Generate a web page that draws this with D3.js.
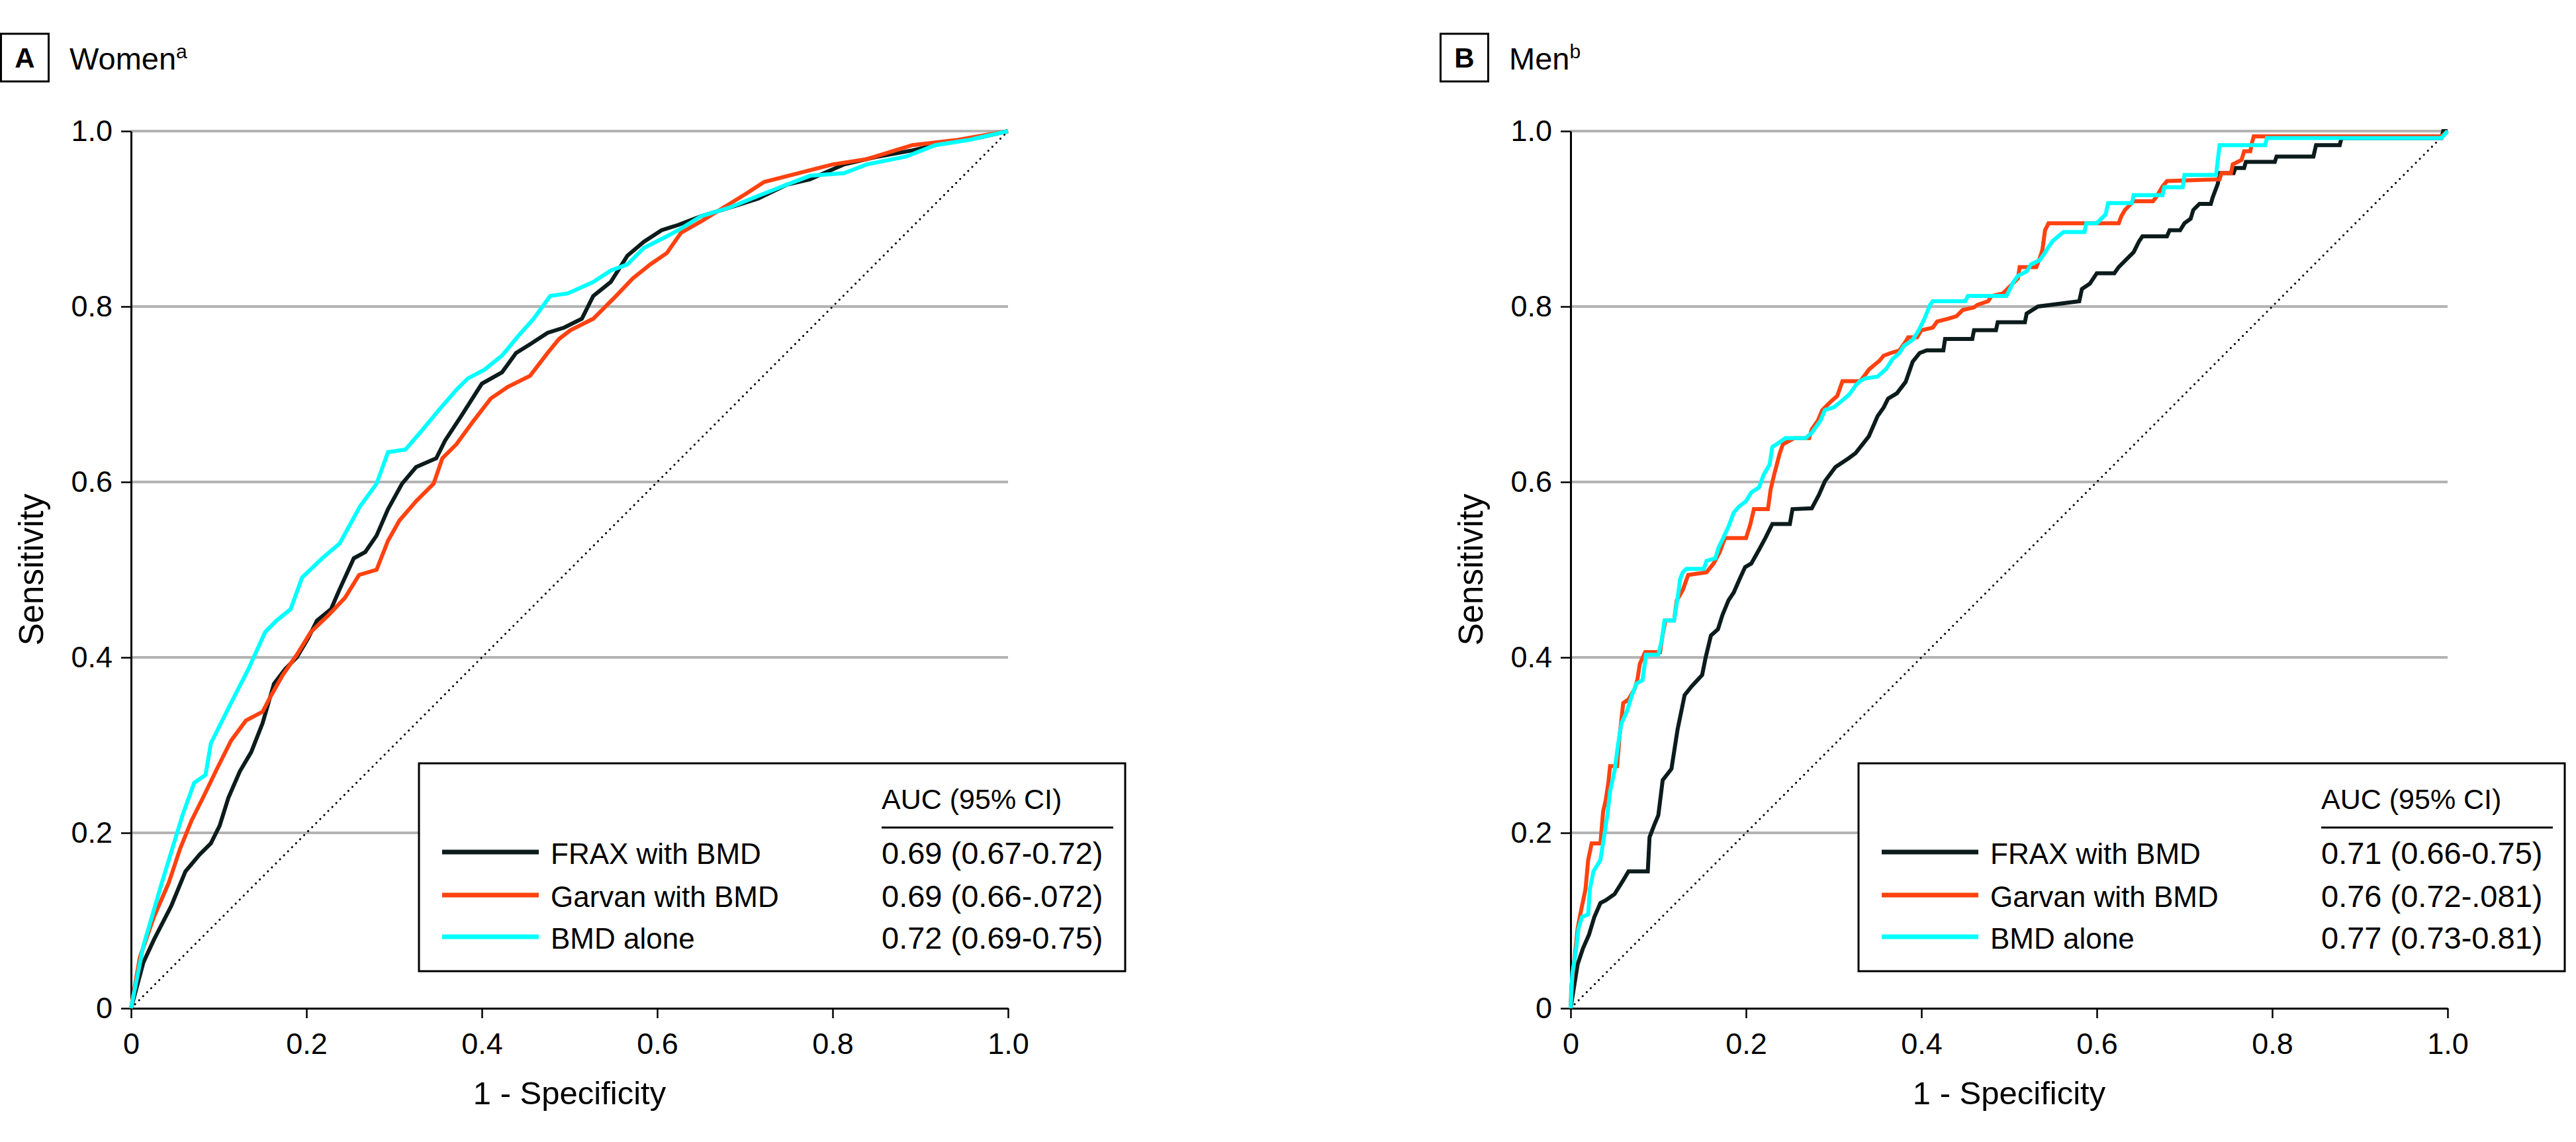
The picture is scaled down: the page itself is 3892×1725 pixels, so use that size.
<!DOCTYPE html>
<html><head><meta charset="utf-8">
<script src="https://cdn.jsdelivr.net/npm/d3@7/dist/d3.min.js"></script>
<style>
html,body{margin:0;padding:0;background:#fff;}
svg text{font-family:"Liberation Sans",Arial,sans-serif;fill:#000;}
</style></head>
<body>
<svg id="chart" width="3892" height="1725"></svg>
<script>
// ---------- data ----------
const tickValues = [0, 0.2, 0.4, 0.6, 0.8, 1.0];
const tickLabels = ["0", "0.2", "0.4", "0.6", "0.8", "1.0"];
const seriesNames = ["FRAX with BMD", "Garvan with BMD", "BMD alone"];
const seriesColors = ["#0c1b1b", "#ff4210", "#00ffff"];
const panelLetters = ["A", "B"];
const panelTitles = ["Women", "Men"];
const panelSups = ["a", "b"];
const aucHeader = "AUC (95% CI)";
const womenAuc = ["0.69 (0.67-0.72)", "0.69 (0.66-.072)", "0.72 (0.69-0.75)"];
const menAuc = ["0.71 (0.66-0.75)", "0.76 (0.72-.081)", "0.77 (0.73-0.81)"];

// [1 - specificity, sensitivity]
const womenFrax = [[0,0],[.014,.052],[.026,.078],[.046,.117],[.062,.156],[.078,.175],[.091,.188],[.101,.208],[.111,.240],[.124,.270],[.137,.292],[.150,.325],[.163,.370],[.176,.387],[.189,.400],[.202,.422],[.212,.442],[.228,.455],[.238,.478],[.254,.513],[.267,.520],[.280,.539],[.293,.569],[.309,.598],[.325,.617],[.348,.627],[.358,.647],[.377,.676],[.400,.712],[.423,.725],[.439,.747],[.455,.757],[.475,.770],[.494,.776],[.514,.786],[.527,.812],[.547,.828],[.566,.858],[.585,.874],[.605,.887],[.624,.893],[.650,.903],[.683,.913],[.715,.923],[.748,.939],[.774,.945],[.813,.962],[.852,.971],[.891,.978],[.930,.987],[.969,.993],[1,1]];
const womenGarvan = [[0,0],[.010,.058],[.026,.104],[.043,.143],[.056,.182],[.069,.214],[.082,.240],[.098,.273],[.114,.305],[.131,.328],[.150,.338],[.160,.357],[.173,.380],[.189,.403],[.205,.429],[.225,.448],[.244,.468],[.260,.494],[.280,.500],[.293,.533],[.306,.556],[.325,.578],[.345,.598],[.355,.627],[.371,.643],[.390,.669],[.410,.695],[.429,.708],[.455,.721],[.475,.747],[.488,.763],[.501,.773],[.527,.786],[.553,.812],[.572,.832],[.592,.848],[.611,.861],[.627,.884],[.650,.897],[.676,.913],[.702,.929],[.722,.942],[.761,.952],[.800,.962],[.839,.968],[.891,.984],[.943,.990],[1,1]];
const womenBmd = [[0,0],[.014,.071],[.036,.146],[.059,.221],[.072,.257],[.085,.266],[.091,.302],[.114,.348],[.134,.387],[.153,.429],[.166,.442],[.182,.455],[.195,.491],[.218,.513],[.238,.530],[.261,.572],[.280,.598],[.293,.634],[.313,.637],[.332,.659],[.351,.682],[.371,.705],[.384,.718],[.403,.728],[.423,.744],[.442,.767],[.459,.786],[.478,.812],[.498,.815],[.514,.822],[.527,.828],[.547,.841],[.566,.848],[.585,.867],[.605,.877],[.624,.887],[.650,.903],[.683,.913],[.715,.926],[.748,.939],[.774,.949],[.813,.952],[.839,.962],[.884,.971],[.917,.984],[.956,.990],[1,1]];

const menFrax = [[0,0],[.008,.05],[.014,.068],[.021,.084],[.027,.104],[.034,.12],[.04,.123],[.05,.13],[.06,.146],[.066,.156],[.088,.156],[.09,.195],[.095,.208],[.1,.22],[.105,.26],[.115,.273],[.122,.318],[.13,.357],[.138,.367],[.15,.38],[.154,.4],[.16,.425],[.168,.432],[.173,.448],[.18,.465],[.186,.474],[.193,.49],[.199,.503],[.206,.507],[.215,.523],[.222,.536],[.23,.552],[.25,.552],[.253,.569],[.275,.57],[.283,.585],[.29,.601],[.302,.617],[.317,.627],[.325,.633],[.34,.652],[.35,.675],[.357,.685],[.362,.695],[.372,.701],[.382,.714],[.39,.737],[.398,.747],[.406,.75],[.425,.75],[.427,.763],[.458,.763],[.46,.773],[.485,.773],[.487,.782],[.518,.782],[.52,.792],[.533,.8],[.58,.806],[.583,.82],[.592,.826],[.6,.838],[.62,.838],[.625,.845],[.635,.855],[.642,.862],[.648,.874],[.652,.88],[.68,.88],[.683,.887],[.695,.887],[.7,.895],[.707,.9],[.71,.91],[.717,.917],[.73,.917],[.732,.924],[.738,.94],[.74,.952],[.756,.952],[.758,.958],[.768,.958],[.77,.965],[.803,.965],[.805,.971],[.847,.971],[.85,.984],[.877,.984],[.879,.992],[.993,.992],[.995,1],[1,1]];
const menGarvan = [[0,0],[.001,.026],[.004,.052],[.008,.091],[.011,.107],[.017,.136],[.02,.169],[.024,.188],[.034,.188],[.037,.224],[.04,.237],[.043,.257],[.045,.276],[.053,.276],[.056,.312],[.06,.348],[.066,.352],[.073,.364],[.076,.374],[.079,.393],[.085,.406],[.102,.406],[.105,.426],[.108,.442],[.118,.442],[.121,.465],[.128,.477],[.134,.494],[.155,.497],[.163,.507],[.17,.52],[.176,.536],[.2,.536],[.205,.552],[.209,.569],[.225,.569],[.228,.591],[.232,.608],[.238,.631],[.242,.643],[.255,.65],[.272,.65],[.275,.66],[.282,.67],[.287,.682],[.297,.692],[.304,.698],[.31,.715],[.33,.715],[.335,.721],[.34,.728],[.347,.734],[.352,.738],[.357,.744],[.365,.747],[.375,.75],[.382,.76],[.385,.765],[.395,.765],[.4,.773],[.413,.776],[.418,.783],[.43,.786],[.44,.789],[.447,.796],[.46,.799],[.464,.802],[.476,.806],[.48,.812],[.493,.815],[.5,.822],[.51,.832],[.512,.845],[.531,.845],[.535,.855],[.538,.865],[.541,.887],[.545,.895],[.625,.895],[.628,.903],[.632,.91],[.642,.92],[.664,.92],[.668,.925],[.675,.937],[.68,.943],[.74,.945],[.742,.952],[.753,.952],[.755,.962],[.765,.967],[.768,.977],[.775,.977],[.777,.987],[.779,.994],[.993,.994],[1,1]];
const menBmd = [[0,0],[.002,.04],[.006,.065],[.009,.091],[.013,.104],[.02,.107],[.022,.136],[.026,.156],[.034,.169],[.038,.195],[.042,.221],[.045,.247],[.05,.27],[.054,.3],[.058,.325],[.064,.338],[.07,.357],[.075,.37],[.082,.374],[.086,.403],[.1,.403],[.104,.42],[.107,.442],[.118,.442],[.122,.468],[.125,.49],[.128,.497],[.132,.501],[.152,.501],[.155,.51],[.165,.513],[.169,.526],[.174,.536],[.18,.549],[.186,.565],[.192,.572],[.2,.578],[.206,.588],[.215,.594],[.22,.608],[.227,.62],[.23,.64],[.235,.643],[.245,.65],[.268,.65],[.275,.656],[.28,.663],[.285,.67],[.29,.682],[.3,.685],[.31,.693],[.318,.7],[.325,.71],[.33,.715],[.336,.718],[.35,.72],[.36,.729],[.367,.74],[.375,.747],[.38,.755],[.39,.762],[.397,.773],[.403,.785],[.41,.802],[.413,.806],[.45,.806],[.453,.812],[.497,.812],[.5,.818],[.505,.828],[.51,.835],[.52,.84],[.525,.848],[.535,.853],[.54,.86],[.545,.868],[.55,.875],[.562,.885],[.586,.885],[.588,.895],[.6,.895],[.61,.905],[.613,.918],[.64,.918],[.642,.927],[.675,.927],[.677,.936],[.698,.936],[.7,.95],[.736,.95],[.74,.984],[.792,.984],[.794,.992],[.993,.992],[1,1]];

const panels = [
  {ox: 0, series: [womenFrax, womenGarvan, womenBmd], auc: womenAuc, letter: panelLetters[0], title: panelTitles[0], sup: panelSups[0]},
  {ox: 2175, series: [menFrax, menGarvan, menBmd], auc: menAuc, letter: panelLetters[1], title: panelTitles[1], sup: panelSups[1]}
];

// ---------- drawing ----------
const svg = d3.select("#chart");
svg.append("rect").attr("width", 3892).attr("height", 1725).attr("fill", "#fff");

panels.forEach(p => {
  const g = svg.append("g").attr("transform", `translate(${p.ox},0)`);
  const x = d3.scaleLinear().domain([0, 1]).range([198, 1523]);
  const y = d3.scaleLinear().domain([0, 1]).range([1523, 198]);

  // panel letter box + title
  g.append("rect").attr("x", 1.5).attr("y", 51).attr("width", 72).attr("height", 72)
    .attr("fill", "none").attr("stroke", "#000").attr("stroke-width", 3);
  g.append("text").attr("x", 37.5).attr("y", 102).attr("text-anchor", "middle")
    .style("font-size", "42px").style("font-weight", "bold").text(p.letter);
  const t = g.append("text").attr("x", 105).attr("y", 105).style("font-size", "47px");
  t.append("tspan").text(p.title);
  t.append("tspan").attr("dy", -17).style("font-size", "30px").text(p.sup);

  // gridlines
  g.append("g").selectAll("line").data(tickValues.filter(v => v > 0)).join("line")
    .attr("x1", x(0)).attr("x2", x(1)).attr("y1", d => y(d)).attr("y2", d => y(d))
    .attr("stroke", "#b3b3b3").attr("stroke-width", 4);

  // diagonal reference
  g.append("line").attr("x1", x(0)).attr("y1", y(0)).attr("x2", x(1)).attr("y2", y(1))
    .attr("stroke", "#000").attr("stroke-width", 3).attr("stroke-linecap", "round")
    .attr("stroke-dasharray", "0.1 8.5");

  // axes
  const fmt = d => tickLabels[tickValues.indexOf(d)];
  const ya = g.append("g").attr("transform", `translate(${x(0)},0)`)
    .call(d3.axisLeft(y).tickValues(tickValues).tickFormat(fmt).tickSize(15).tickSizeOuter(0).tickPadding(13));
  const xa = g.append("g").attr("transform", `translate(0,${y(0)})`)
    .call(d3.axisBottom(x).tickValues(tickValues).tickFormat(fmt).tickSize(15).tickSizeOuter(0).tickPadding(22));
  [ya, xa].forEach(a => {
    a.attr("font-family", null).attr("font-size", null);
    a.select(".domain").attr("stroke", "#000").attr("stroke-width", 3);
    a.selectAll(".tick line").attr("stroke", "#000").attr("stroke-width", 2.5);
    a.selectAll(".tick text").style("font-size", "45px").attr("fill", "#000");
  });

  // axis titles
  g.append("text").attr("transform", `translate(65,${(y(0) + y(1)) / 2}) rotate(-90)`)
    .attr("text-anchor", "middle").style("font-size", "51px").text("Sensitivity");
  g.append("text").attr("x", (x(0) + x(1)) / 2).attr("y", 1668)
    .attr("text-anchor", "middle").style("font-size", "49px").text("1 - Specificity");

  // curves
  const line = d3.line().x(d => x(d[0])).y(d => y(d[1]));
  p.series.forEach((s, i) => {
    g.append("path").datum(s).attr("d", line).attr("fill", "none")
      .attr("stroke", seriesColors[i]).attr("stroke-width", 6).attr("stroke-linejoin", "miter");
  });

  // legend
  const lg = g.append("g");
  lg.append("rect").attr("x", 633).attr("y", 1153).attr("width", 1067).attr("height", 314)
    .attr("fill", "#fff").attr("stroke", "#000").attr("stroke-width", 3);
  lg.append("text").attr("x", 1332).attr("y", 1222).style("font-size", "43px").text(aucHeader);
  lg.append("line").attr("x1", 1332).attr("x2", 1682).attr("y1", 1250).attr("y2", 1250)
    .attr("stroke", "#000").attr("stroke-width", 3);
  const rowY = [1305, 1370, 1433];
  seriesNames.forEach((n, i) => {
    lg.append("line").attr("x1", 668).attr("x2", 814).attr("y1", rowY[i] - 18).attr("y2", rowY[i] - 18)
      .attr("stroke", seriesColors[i]).attr("stroke-width", 7);
    lg.append("text").attr("x", 832).attr("y", rowY[i]).style("font-size", "44px").text(n);
    lg.append("text").attr("x", 1332).attr("y", rowY[i]).style("font-size", "47px").text(p.auc[i]);
  });
});
</script>
</body></html>
